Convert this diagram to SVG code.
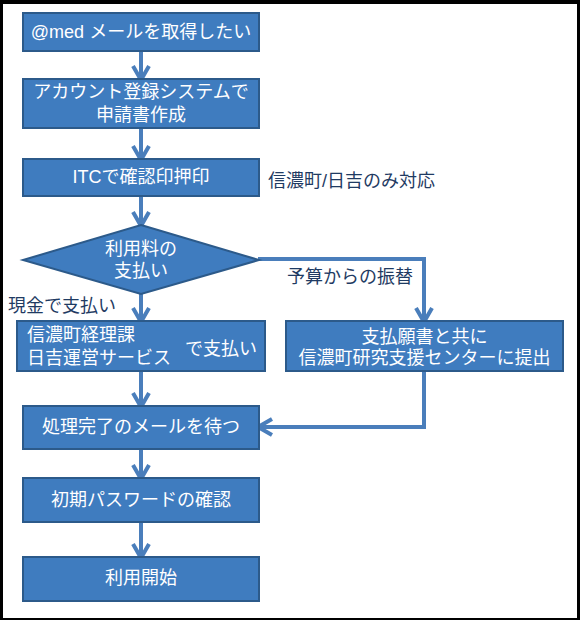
<svg xmlns="http://www.w3.org/2000/svg" width="580" height="620" viewBox="0 0 580 620">
<style>
.box{fill:#3F7CBF;stroke:#2C5A8A;stroke-width:2}
.t{font-family:"Liberation Sans","Noto Sans CJK JP",sans-serif;font-size:18px;fill:#ffffff;dominant-baseline:central}
.c{text-anchor:middle}
.lbl{font-family:"Liberation Sans","Noto Sans CJK JP",sans-serif;font-size:18px;fill:#1F3B63;dominant-baseline:central}
.conn{fill:none;stroke:#4A7EBB;stroke-width:4;marker-end:url(#arr)}
</style>
<defs>
<marker id="arr" markerUnits="userSpaceOnUse" viewBox="-20 -12 24 24" markerWidth="24" markerHeight="24" refX="-2" refY="0" orient="auto">
<path d="M-15,-8 L-1,0 L-15,8" fill="none" stroke="#4A7EBB" stroke-width="4"/>
</marker>
</defs>
<rect x="0" y="0" width="580" height="620" fill="#000000"/>
<rect x="3" y="4" width="574" height="614" fill="#ffffff"/>
<g id="connectors">
<path class="conn" d="M141,51 V79"/>
<path class="conn" d="M141,128 V159"/>
<path class="conn" d="M141,196 V225"/>
<path class="conn" d="M141,294 V321"/>
<path class="conn" d="M141,371 V406"/>
<path class="conn" d="M141,449 V478"/>
<path class="conn" d="M141,522 V557"/>
<path class="conn" d="M258,259 H424 V321"/>
<path class="conn" d="M424,371 V427 H259"/>
</g>
<g id="n1">
<rect class="box" x="23" y="13" width="236" height="38"/>
<text class="t c" x="141" y="32">@med メールを取得したい</text>
</g>
<g id="n2">
<rect class="box" x="23" y="79" width="236" height="49"/>
<text class="t c" x="141" y="92">アカウント登録システムで</text>
<text class="t c" x="141" y="115">申請書作成</text>
</g>
<g id="n3">
<rect class="box" x="23" y="159" width="236" height="37"/>
<text class="t c" x="141" y="177">ITCで確認印押印</text>
</g>
<g id="note1">
<text class="lbl" x="268" y="181">信濃町/日吉のみ対応</text>
</g>
<g id="n4">
<polygon class="box" points="141,225 259,260 141,294 23,260"/>
<text class="t c" x="141" y="249">利用料の</text>
<text class="t c" x="141" y="271">支払い</text>
</g>
<g id="lbl-cash">
<text class="lbl" x="8" y="306">現金で支払い</text>
</g>
<g id="lbl-budget">
<text class="lbl" x="287" y="277">予算からの振替</text>
</g>
<g id="n5">
<rect class="box" x="17" y="321" width="248" height="50"/>
<text class="t" x="27" y="335">信濃町経理課</text>
<text class="t" x="27" y="358">日吉運営サービス</text>
<text class="t" x="185" y="349">で支払い</text>
</g>
<g id="n6">
<rect class="box" x="286" y="321" width="277" height="50"/>
<text class="t c" x="424.5" y="337">支払願書と共に</text>
<text class="t c" x="424.5" y="358">信濃町研究支援センターに提出</text>
</g>
<g id="n7">
<rect class="box" x="23" y="406" width="236" height="43"/>
<text class="t c" x="141" y="427">処理完了のメールを待つ</text>
</g>
<g id="n8">
<rect class="box" x="23" y="478" width="236" height="44"/>
<text class="t c" x="141" y="500">初期パスワードの確認</text>
</g>
<g id="n9">
<rect class="box" x="23" y="557" width="236" height="44"/>
<text class="t c" x="141" y="578">利用開始</text>
</g>
</svg>
